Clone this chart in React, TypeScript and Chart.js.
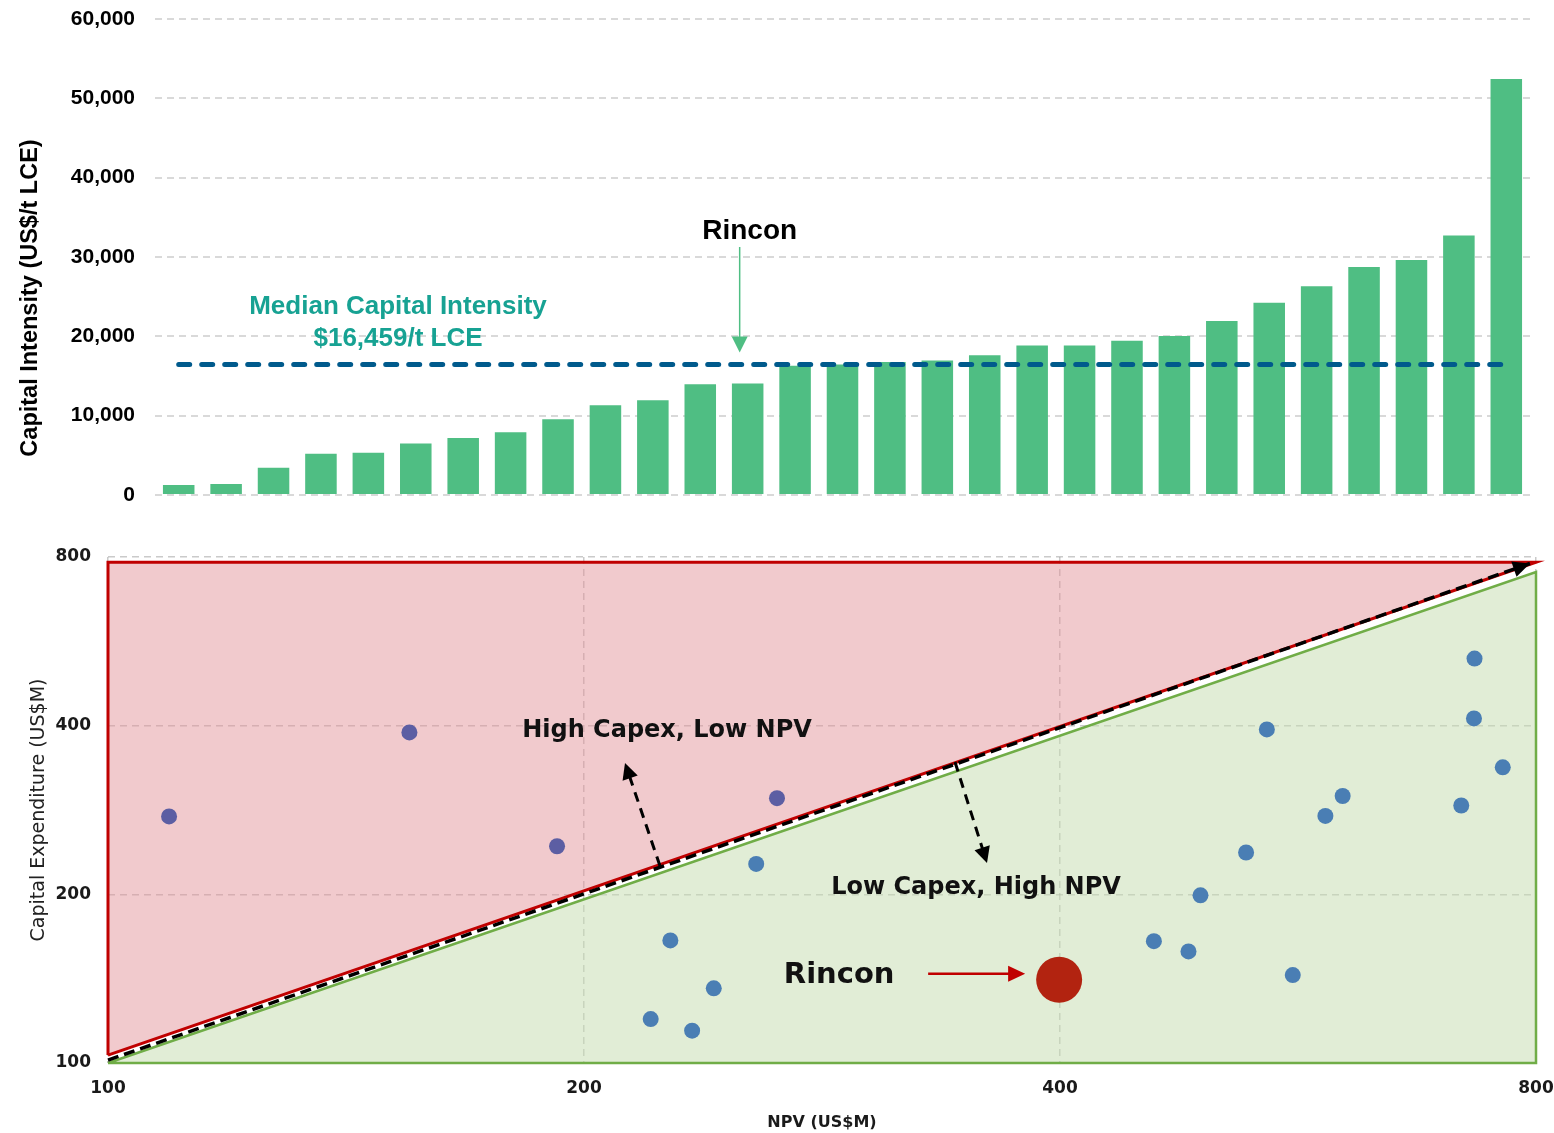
import React, { useEffect, useRef } from "react";
import { Chart, registerables } from "chart.js";

Chart.register(...registerables);

// ---------- Top chart data ----------
const projects = [
  "P1", "P2", "P3", "P4", "P5", "P6", "P7", "P8", "P9", "P10",
  "P11", "P12", "P13", "P14", "P15", "P16", "P17", "P18", "P19", "P20",
  "P21", "P22", "P23", "P24", "P25", "P26", "P27", "P28", "P29",
];
const capitalIntensity = [
  1260, 1390, 3450, 5210, 5340, 6480, 7190, 7910, 9550, 11320,
  11950, 13970, 14050, 16300, 16459, 16750, 16960, 17630, 18850, 18850,
  19440, 20030, 21920, 24240, 26300, 28740, 29630, 32700, 52440,
];
const MEDIAN_INTENSITY = 16459;
const RINCON_BAR_INDEX = 12;
const intensityAxis = { min: 0, max: 60000, step: 10000 };

// ---------- Bottom chart data ----------
const highCapexProjects = [
  { x: 109.3, y: 275.5 },
  { x: 155.1, y: 389 },
  { x: 192.3, y: 243.7 },
  { x: 264.9, y: 296.9 },
];
const lowCapexProjects = [
  { x: 257.0, y: 226.6 },
  { x: 226.8, y: 165.5 },
  { x: 241.6, y: 135.9 },
  { x: 220.4, y: 119.8 },
  { x: 234.1, y: 114.2 },
  { x: 540.6, y: 393.9 },
  { x: 524.5, y: 237.5 },
  { x: 490.8, y: 199.2 },
  { x: 458.6, y: 165.0 },
  { x: 482.3, y: 158.2 },
  { x: 561.4, y: 143.5 },
  { x: 588.7, y: 276.0 },
  { x: 603.7, y: 299.6 },
  { x: 717.5, y: 288.1 },
  { x: 731.5, y: 527.0 },
  { x: 730.9, y: 412.1 },
  { x: 762.2, y: 337.1 },
];
const rinconProject = [{ x: 399.5, y: 140.8 }];
const npvTicks = [100, 200, 400, 800];
const capexTicks = [100, 200, 400, 800];
const highZone = [
  { x: 100, y: 103.3 },
  { x: 100, y: 783 },
  { x: 800, y: 783 },
  { x: 100, y: 103.3 },
];
const lowZone = [
  { x: 100, y: 100 },
  { x: 800, y: 752 },
  { x: 800, y: 100 },
  { x: 100, y: 100 },
];
const breakEven = [
  { x: 100, y: 101.2 },
  { x: 793, y: 779 },
];

const ARIAL = '"Liberation Sans", Arial, sans-serif';
const GOTHIC = '"DejaVu Sans", sans-serif';

function drawArrowHead(
  ctx: CanvasRenderingContext2D,
  x0: number, y0: number, x1: number, y1: number,
  len: number, half: number, color: string
) {
  const a = Math.atan2(y1 - y0, x1 - x0);
  ctx.save();
  ctx.translate(x1, y1);
  ctx.rotate(a);
  ctx.beginPath();
  ctx.moveTo(0, 0);
  ctx.lineTo(-len, -half);
  ctx.lineTo(-len, half);
  ctx.closePath();
  ctx.fillStyle = color;
  ctx.fill();
  ctx.restore();
}

function drawArrow(
  ctx: CanvasRenderingContext2D,
  x0: number, y0: number, x1: number, y1: number,
  opts: { color: string; width: number; dash?: number[]; len: number; half: number }
) {
  const a = Math.atan2(y1 - y0, x1 - x0);
  const ex = x1 - Math.cos(a) * (opts.len - 2);
  const ey = y1 - Math.sin(a) * (opts.len - 2);
  ctx.save();
  ctx.strokeStyle = opts.color;
  ctx.lineWidth = opts.width;
  ctx.setLineDash(opts.dash || []);
  ctx.beginPath();
  ctx.moveTo(x0, y0);
  ctx.lineTo(ex, ey);
  ctx.stroke();
  ctx.restore();
  drawArrowHead(ctx, x0, y0, x1, y1, opts.len, opts.half, opts.color);
}

const topAnnotations = {
  id: "topAnnotations",
  afterDatasetsDraw(chart: any) {
    const ctx: CanvasRenderingContext2D = chart.ctx;
    const xs = chart.scales.x;
    const ys = chart.scales.y;
    ctx.save();
    ctx.textAlign = "center";
    ctx.textBaseline = "middle";
    ctx.fillStyle = "#17A293";
    ctx.font = `bold 26px ${ARIAL}`;
    ctx.fillText("Median Capital Intensity", 398, 307);
    ctx.fillText("$16,459/t LCE", 398, 339);

    const ax = xs.getPixelForValue(RINCON_BAR_INDEX) - 8;
    const tipY = ys.getPixelForValue(MEDIAN_INTENSITY) - 12;
    ctx.fillStyle = "#000";
    ctx.font = `bold 28px ${ARIAL}`;
    ctx.fillText("Rincon", ax + 10, 231);
    drawArrow(ctx, ax, 247, ax, tipY, { color: "#4FBE83", width: 1.5, len: 16, half: 8 });
    ctx.restore();
  },
  afterDraw(chart: any) {
    const ctx: CanvasRenderingContext2D = chart.ctx;
    ctx.save();
    ctx.translate(31, 298);
    ctx.rotate(-Math.PI / 2);
    ctx.textAlign = "center";
    ctx.textBaseline = "middle";
    ctx.fillStyle = "#000";
    ctx.font = `bold 23.5px ${ARIAL}`;
    ctx.fillText("Capital Intensity (US$/t LCE)", 0, 0);
    ctx.restore();
  },
};

const bottomAnnotations = {
  id: "bottomAnnotations",
  afterDatasetsDraw(chart: any) {
    const ctx: CanvasRenderingContext2D = chart.ctx;
    const xs = chart.scales.x;
    const ys = chart.scales.y;

    // arrow head on break-even line
    const b0x = xs.getPixelForValue(breakEven[0].x);
    const b0y = ys.getPixelForValue(breakEven[0].y);
    const b1x = xs.getPixelForValue(breakEven[1].x);
    const b1y = ys.getPixelForValue(breakEven[1].y);
    drawArrowHead(ctx, b0x, b0y, b1x, b1y, 17, 8, "#000");

    ctx.save();
    ctx.textAlign = "center";
    ctx.textBaseline = "middle";
    ctx.fillStyle = "#111";
    ctx.font = `bold 24px ${GOTHIC}`;
    ctx.fillText("High Capex, Low NPV", 667, 201);
    ctx.fillText("Low Capex, High NPV", 976, 358);

    drawArrow(ctx, 660, 336, 625, 233, { color: "#000", width: 3, dash: [10, 7], len: 16, half: 8 });
    drawArrow(ctx, 955, 232, 987, 333, { color: "#000", width: 3, dash: [10, 7], len: 16, half: 8 });

    const rx = xs.getPixelForValue(rinconProject[0].x);
    const ry = ys.getPixelForValue(rinconProject[0].y);
    ctx.font = `bold 29px ${GOTHIC}`;
    ctx.fillStyle = "#111";
    ctx.fillText("Rincon", rx - 220, ry - 4);
    drawArrow(ctx, rx - 131, ry - 6, rx - 34, ry - 6, { color: "#C00000", width: 2.5, len: 17, half: 8 });
    ctx.restore();
  },
};

function TopChart() {
  const ref = useRef<HTMLCanvasElement>(null);
  useEffect(() => {
    if (!ref.current) return;
    const chart = new Chart(ref.current, {
      type: "bar",
      data: {
        labels: projects,
        datasets: [
          {
            type: "line",
            label: "Median",
            data: [
              { x: projects[0], y: MEDIAN_INTENSITY },
              { x: projects[projects.length - 1], y: MEDIAN_INTENSITY },
            ] as any,
            borderColor: "#005A8C",
            borderWidth: 5,
            borderDash: [11, 12],
            borderCapStyle: "round",
            pointRadius: 0,
            order: 0,
          } as any,
          {
            type: "bar",
            label: "Capital Intensity",
            data: capitalIntensity,
            backgroundColor: "#4FBE83",
            barPercentage: 0.665,
            categoryPercentage: 1,
            order: 1,
          },
        ],
      },
      options: {
        animation: false,
        responsive: false,
        layout: { padding: { top: 19, right: 24, bottom: 25, left: 0 } },
        plugins: { legend: { display: false }, tooltip: { enabled: false } },
        scales: {
          x: { display: false },
          y: {
            min: intensityAxis.min,
            max: intensityAxis.max,
            ticks: {
              stepSize: intensityAxis.step,
              color: "#000",
              padding: 20,
              font: { family: ARIAL, size: 21, weight: "bold" },
              callback: (v: any) => Number(v).toLocaleString("en-US"),
            },
            grid: { color: "#D9D9D9", lineWidth: 2, drawTicks: false },
            border: { display: false, dash: [7, 5] },
            afterFit: (s: any) => {
              s.width = 155;
              s.paddingTop = 0;
              s.paddingBottom = 0;
            },
          },
        },
      },
      plugins: [topAnnotations],
    });
    return () => chart.destroy();
  }, []);
  return (
    <canvas
      ref={ref}
      width={1554}
      height={520}
      style={{ position: "absolute", left: 0, top: 0, width: 1554, height: 520 }}
    />
  );
}

function BottomChart() {
  const ref = useRef<HTMLCanvasElement>(null);
  useEffect(() => {
    if (!ref.current) return;
    const chart = new Chart(ref.current, {
      type: "scatter",
      data: {
        datasets: [
          {
            label: "Rincon",
            data: rinconProject,
            backgroundColor: "#B22310",
            borderWidth: 0,
            pointRadius: 23,
            order: 0,
          },
          {
            label: "High capex projects",
            data: highCapexProjects,
            backgroundColor: "#5C5EA3",
            borderWidth: 0,
            pointRadius: 8,
            order: 1,
          },
          {
            label: "Low capex projects",
            data: lowCapexProjects,
            backgroundColor: "#4A7EB4",
            borderWidth: 0,
            pointRadius: 8,
            order: 2,
          },
          {
            label: "Break-even",
            data: breakEven,
            showLine: true,
            borderColor: "#000",
            borderWidth: 3.5,
            borderDash: [11, 6],
            pointRadius: 0,
            fill: false,
            clip: false as any,
            order: 3,
          },
          {
            label: "Low zone",
            data: lowZone,
            showLine: true,
            borderColor: "#70AD47",
            borderWidth: 2.5,
            backgroundColor: "rgba(200,222,180,0.55)",
            fill: "shape",
            pointRadius: 0,
            clip: false as any,
            order: 4,
          },
          {
            label: "High zone",
            data: highZone,
            showLine: true,
            borderColor: "#C00000",
            borderWidth: 3,
            backgroundColor: "rgba(228,150,155,0.5)",
            fill: "shape",
            pointRadius: 0,
            clip: false as any,
            order: 5,
          },
        ] as any,
      },
      options: {
        animation: false,
        responsive: false,
        layout: { autoPadding: false, padding: { top: 27, right: 18, bottom: 0, left: 0 } },
        plugins: { legend: { display: false }, tooltip: { enabled: false } },
        scales: {
          x: {
            type: "logarithmic",
            min: 100,
            max: 800,
            afterBuildTicks: (s: any) => {
              s.ticks = npvTicks.map((v) => ({ value: v }));
            },
            ticks: {
              color: "#1a1a1a",
              padding: 15,
              font: { family: GOTHIC, size: 17, weight: "bold" },
              callback: (v: any) => String(v),
              maxRotation: 0,
            },
            grid: { color: "rgba(150,150,150,0.5)", lineWidth: 1.5, drawTicks: false },
            border: { display: false, dash: [7, 5] },
            title: {
              display: true,
              text: "NPV (US$M)",
              color: "#1a1a1a",
              font: { family: GOTHIC, size: 16, weight: "bold" },
              padding: { top: 0, bottom: 1 },
            },
            afterFit: (s: any) => {
              s.height = 70;
              s.paddingLeft = 0;
              s.paddingRight = 0;
            },
          },
          y: {
            type: "logarithmic",
            min: 100,
            max: 800,
            afterBuildTicks: (s: any) => {
              s.ticks = capexTicks.map((v) => ({ value: v }));
            },
            ticks: {
              color: "#1a1a1a",
              padding: 17,
              font: { family: GOTHIC, size: 17, weight: "bold" },
              callback: (v: any) => String(v),
            },
            grid: { color: "rgba(150,150,150,0.5)", lineWidth: 1.5, drawTicks: false },
            border: { display: false, dash: [7, 5] },
            title: {
              display: true,
              text: "Capital Expenditure (US$M)",
              color: "#222",
              font: { family: GOTHIC, size: 19, weight: "normal" },
              padding: { top: 28, bottom: 0 },
            },
            afterFit: (s: any) => {
              s.width = 108;
              s.paddingTop = 0;
              s.paddingBottom = 0;
            },
          },
        },
      },
      plugins: [bottomAnnotations],
    });
    return () => chart.destroy();
  }, []);
  return (
    <canvas
      ref={ref}
      width={1554}
      height={603}
      style={{ position: "absolute", left: 0, top: 530, width: 1554, height: 603 }}
    />
  );
}

export default function App() {
  return (
    <div style={{ position: "absolute", left: 0, top: 0, width: 1554, height: 1133, background: "#fff" }}>
      <TopChart />
      <BottomChart />
    </div>
  );
}
